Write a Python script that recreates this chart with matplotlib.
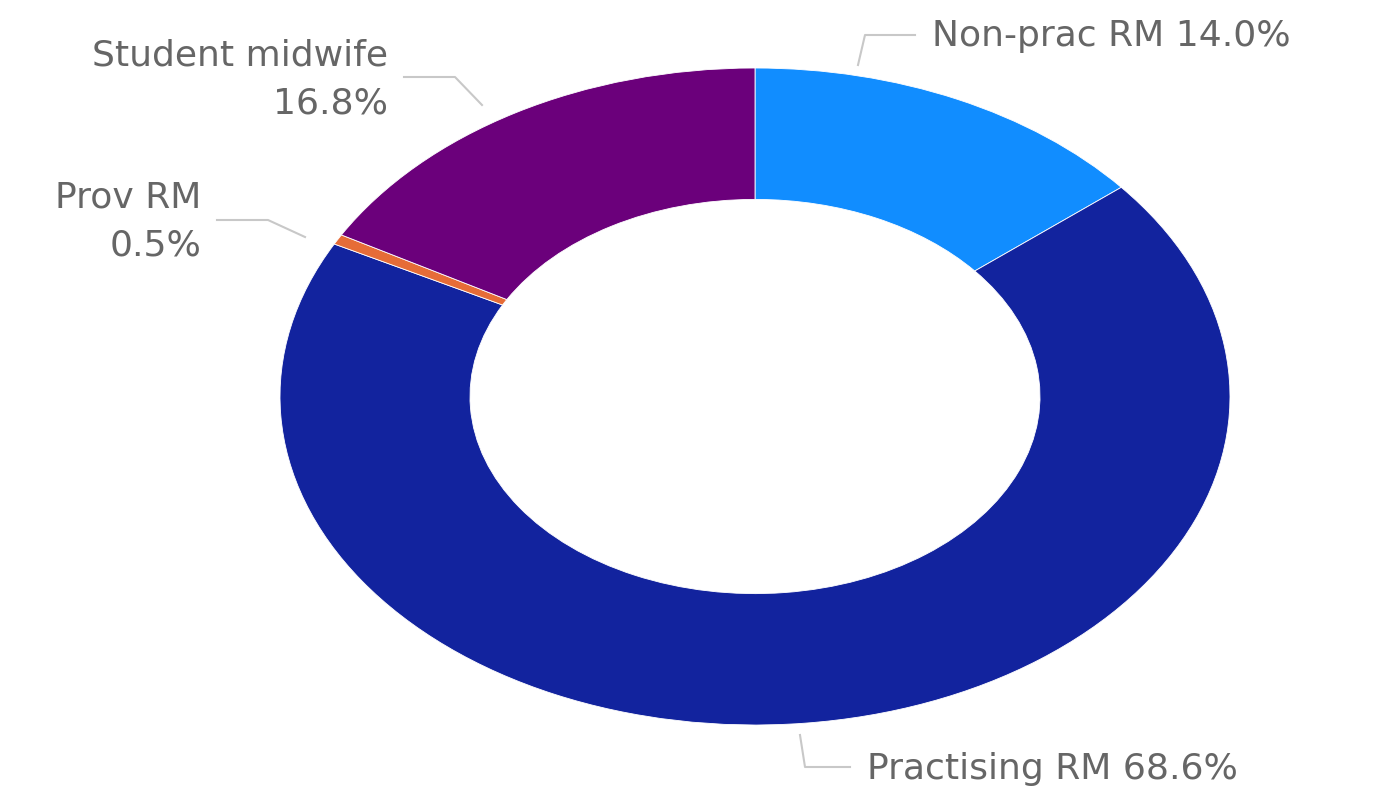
import numpy as np
import matplotlib.pyplot as plt

labels = ["Non-prac RM", "Practising RM", "Prov RM", "Student midwife"]
shares = [14.0, 68.6, 0.5, 16.8]
colors = ["#118DFF", "#12239E", "#E66C37", "#6B007B"]

W, H = 1398, 790
cx, cy = 755, 396.5   # donut centre in pixels
rx, ry = 475, 328.5   # outer radii in pixels (chart is stretched sideways)

fig = plt.figure(figsize=(W / 100, H / 100), dpi=100)
ax = fig.add_axes([0, 0, 1, 1])
ax.pie(shares, colors=colors, startangle=90, counterclock=False, radius=1,
       wedgeprops=dict(width=0.4, edgecolor="white", linewidth=0.6))
ax.set_aspect("auto")
ax.set_xlim(-cx / rx, (W - cx) / rx)
ax.set_ylim(-(H - cy) / ry, cy / ry)
ax.axis("off")

# overlay in pixel coordinates for labels and leader lines
ov = fig.add_axes([0, 0, 1, 1])
ov.set_xlim(0, W)
ov.set_ylim(H, 0)
ov.axis("off")
ov.patch.set_alpha(0)

txt_col = "#666666"
line_col = "#C8C8C8"
fs = 26

# Non-prac RM
ov.plot([858, 865, 915], [65, 35, 35], color=line_col, lw=1.5)
ov.text(932, 36, f"{labels[0]} {shares[0]:.1f}%", color=txt_col, fontsize=fs,
        ha="left", va="center")
# Practising RM
ov.plot([800, 805, 850], [735, 767, 767], color=line_col, lw=1.5)
ov.text(867, 769, f"{labels[1]} {shares[1]:.1f}%", color=txt_col, fontsize=fs,
        ha="left", va="center")
# Prov RM
ov.plot([305, 268, 217], [237, 220, 220], color=line_col, lw=1.5)
ov.text(201, 198, labels[2], color=txt_col, fontsize=fs, ha="right", va="center")
ov.text(201, 246, f"{shares[2]:.1f}%", color=txt_col, fontsize=fs, ha="right", va="center")
# Student midwife
ov.plot([482, 455, 404], [105, 77, 77], color=line_col, lw=1.5)
ov.text(388, 55, labels[3], color=txt_col, fontsize=fs, ha="right", va="center")
ov.text(388, 104, f"{shares[3]:.1f}%", color=txt_col, fontsize=fs, ha="right", va="center")

fig.savefig("out.png", dpi=100)
